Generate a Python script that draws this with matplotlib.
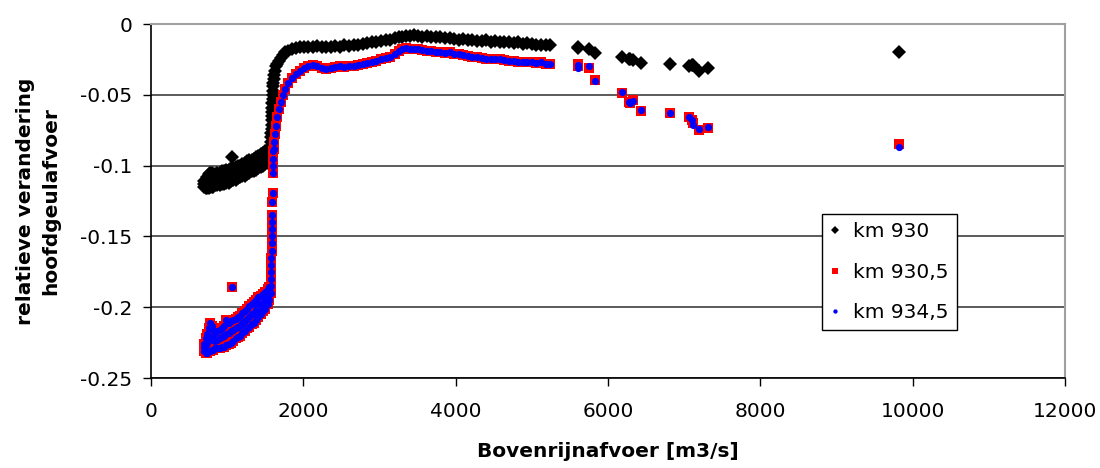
import matplotlib
matplotlib.use("Agg")
import matplotlib.pyplot as plt

plt.rcParams["font.family"] = ["DejaVu Sans"]

# Bovenrijnafvoer [m3/s], shared by the three locations
# low-discharge cloud: three rows of points on the same discharges, then one outlier
Q_low = [700, 720, 740, 760, 780, 800, 820, 840, 870, 900, 930, 960, 990, 1020, 1050, 1080,
         1110, 1140, 1170, 1200, 1230, 1260, 1290, 1320, 1350, 1380, 1410, 1440, 1470, 1500,
         1530, 1555]
Q_rest = [1065,
          # steep rise
          1570, 1572, 1574, 1576, 1578, 1580, 1582, 1584, 1586, 1588, 1590, 1592, 1594, 1596,
          1598, 1600, 1603, 1606,
          1612, 1620, 1630, 1645, 1660, 1680, 1700, 1730, 1760, 1800, 1850, 1900, 1960, 2010,
          2060,
          # plateau
          2120, 2180, 2240, 2300, 2360, 2420, 2480, 2540, 2600, 2660, 2720, 2780, 2840, 2900,
          2960, 3020, 3080, 3140, 3200, 3250, 3300, 3350, 3400, 3450, 3500, 3560, 3620, 3680,
          3740, 3800, 3860, 3920, 3980, 4040, 4100, 4160, 4220, 4280, 4340, 4400, 4460, 4520,
          4580, 4640, 4700, 4760, 4820, 4880, 4940, 5000, 5060, 5120, 5180, 5240,
          # high discharges
          5600, 5610, 5750, 5830, 6190, 6270, 6290, 6330, 6430, 6810, 7060, 7100, 7120, 7190,
          7310, 9820]
Q = Q_low * 3 + Q_rest

km930 = [
    # low cloud, lower / middle / upper row
    -0.115, -0.116, -0.116, -0.116, -0.115, -0.115, -0.115, -0.114, -0.114, -0.114, -0.113,
    -0.113, -0.112, -0.112, -0.111, -0.110, -0.110, -0.109, -0.108, -0.107, -0.107, -0.106,
    -0.105, -0.104, -0.104, -0.103, -0.102, -0.101, -0.100, -0.099, -0.098, -0.096,
    -0.113, -0.113, -0.112, -0.111, -0.110, -0.110, -0.110, -0.110, -0.109, -0.109, -0.108,
    -0.108, -0.107, -0.107, -0.106, -0.106, -0.105, -0.104, -0.104, -0.103, -0.102, -0.101,
    -0.100, -0.100, -0.099, -0.098, -0.097, -0.096, -0.095, -0.094, -0.093, -0.092,
    -0.111, -0.110, -0.108, -0.106, -0.105, -0.105, -0.106, -0.106, -0.105, -0.105, -0.104,
    -0.104, -0.103, -0.103, -0.102, -0.102, -0.101, -0.100, -0.100, -0.099, -0.098, -0.097,
    -0.096, -0.096, -0.095, -0.094, -0.093, -0.092, -0.091, -0.090, -0.089, -0.088,
    -0.094,
    -0.092, -0.089, -0.086, -0.083, -0.080, -0.077, -0.074, -0.071, -0.068, -0.065, -0.062,
    -0.059, -0.056, -0.053, -0.050, -0.047, -0.044, -0.042,
    -0.039, -0.036, -0.033, -0.030, -0.028, -0.026, -0.024, -0.022, -0.020, -0.019, -0.018,
    -0.017, -0.016, -0.016, -0.016,
    -0.016, -0.0155, -0.016, -0.0165, -0.016, -0.0155, -0.016, -0.015, -0.0155, -0.015,
    -0.0145, -0.014, -0.0135, -0.013, -0.0125, -0.012, -0.0115, -0.011, -0.010, -0.0095,
    -0.009, -0.0085, -0.0085, -0.008, -0.0085, -0.009, -0.0085, -0.009, -0.0095, -0.0095,
    -0.010, -0.010, -0.0105, -0.011, -0.0105, -0.011, -0.0115, -0.012, -0.012,
    -0.0115, -0.0125, -0.012, -0.013, -0.0125, -0.013, -0.0135, -0.013, -0.014, -0.0135,
    -0.014, -0.0145, -0.015, -0.0145, -0.015,
    -0.017, -0.016, -0.018, -0.0205, -0.023, -0.025, -0.025, -0.0255, -0.0275, -0.028,
    -0.030, -0.029, -0.029, -0.033, -0.031, -0.020]

km930_5 = [
    -0.231, -0.232, -0.232, -0.231, -0.231, -0.230, -0.230, -0.229, -0.229, -0.229, -0.228,
    -0.228, -0.227, -0.226, -0.225, -0.224, -0.222, -0.221, -0.220, -0.218, -0.217, -0.215,
    -0.214, -0.212, -0.211, -0.209, -0.207, -0.205, -0.203, -0.201, -0.198, -0.195,
    -0.228, -0.227, -0.225, -0.223, -0.221, -0.222, -0.223, -0.224, -0.223, -0.222, -0.221,
    -0.220, -0.219, -0.218, -0.217, -0.216, -0.215, -0.214, -0.213, -0.211, -0.210, -0.208,
    -0.207, -0.205, -0.204, -0.202, -0.200, -0.198, -0.197, -0.195, -0.193, -0.191,
    -0.226, -0.222, -0.219, -0.215, -0.211, -0.213, -0.216, -0.218, -0.217, -0.216, -0.215,
    -0.213, -0.209, -0.211, -0.210, -0.209, -0.208, -0.207, -0.206, -0.204, -0.203, -0.201,
    -0.199, -0.198, -0.196, -0.195, -0.193, -0.192, -0.191, -0.189, -0.187, -0.186,
    -0.186,
    -0.190, -0.185, -0.180, -0.175, -0.170, -0.165, -0.160, -0.155, -0.150, -0.145, -0.140,
    -0.135, -0.126, -0.119, -0.105, -0.100, -0.095, -0.090,
    -0.088, -0.083, -0.078, -0.072, -0.066, -0.060, -0.055, -0.050, -0.046, -0.042, -0.038,
    -0.035, -0.033, -0.031, -0.030,
    -0.029, -0.030, -0.031, -0.0315, -0.031, -0.0305, -0.030, -0.0305, -0.030, -0.0295,
    -0.029, -0.028, -0.0275, -0.027, -0.026, -0.025, -0.024, -0.023, -0.021, -0.019,
    -0.0175, -0.017, -0.0175, -0.018, -0.018, -0.0185, -0.019, -0.019, -0.0195, -0.020,
    -0.0205, -0.020, -0.021, -0.0215, -0.022, -0.0225, -0.023, -0.0235, -0.024,
    -0.0245, -0.025, -0.0245, -0.025, -0.0255, -0.026, -0.026, -0.0265, -0.027, -0.0265,
    -0.027, -0.0275, -0.027, -0.028, -0.028,
    -0.030, -0.028, -0.031, -0.0395, -0.0485, -0.055, -0.0557, -0.054, -0.0615, -0.063,
    -0.0655, -0.068, -0.070, -0.075, -0.0735, -0.085]

km934_5 = [
    -0.231, -0.232, -0.232, -0.231, -0.231, -0.230, -0.230, -0.229, -0.229, -0.229, -0.228,
    -0.228, -0.227, -0.226, -0.225, -0.224, -0.222, -0.221, -0.220, -0.218, -0.217, -0.215,
    -0.214, -0.212, -0.211, -0.209, -0.207, -0.205, -0.203, -0.201, -0.198, -0.195,
    -0.228, -0.227, -0.225, -0.223, -0.221, -0.222, -0.223, -0.224, -0.223, -0.222, -0.221,
    -0.220, -0.219, -0.218, -0.217, -0.216, -0.215, -0.214, -0.213, -0.211, -0.210, -0.208,
    -0.207, -0.205, -0.204, -0.202, -0.200, -0.198, -0.197, -0.195, -0.193, -0.191,
    -0.226, -0.222, -0.219, -0.215, -0.211, -0.213, -0.216, -0.218, -0.217, -0.216, -0.215,
    -0.213, -0.209, -0.211, -0.210, -0.209, -0.208, -0.207, -0.206, -0.204, -0.203, -0.201,
    -0.199, -0.198, -0.196, -0.195, -0.193, -0.192, -0.191, -0.189, -0.187, -0.186,
    -0.186,
    -0.190, -0.185, -0.180, -0.175, -0.170, -0.165, -0.160, -0.155, -0.150, -0.145, -0.140,
    -0.135, -0.126, -0.119, -0.105, -0.100, -0.095, -0.090,
    -0.088, -0.083, -0.078, -0.072, -0.066, -0.060, -0.055, -0.050, -0.046, -0.042, -0.038,
    -0.035, -0.033, -0.031, -0.030,
    -0.029, -0.030, -0.031, -0.0315, -0.031, -0.0305, -0.030, -0.0305, -0.030, -0.0295,
    -0.029, -0.028, -0.0275, -0.027, -0.026, -0.025, -0.024, -0.023, -0.021, -0.019,
    -0.0175, -0.017, -0.0175, -0.018, -0.018, -0.0185, -0.019, -0.019, -0.0195, -0.020,
    -0.0205, -0.020, -0.021, -0.0215, -0.022, -0.0225, -0.023, -0.0235, -0.024,
    -0.0245, -0.025, -0.0245, -0.025, -0.0255, -0.026, -0.026, -0.0265, -0.027, -0.0265,
    -0.027, -0.0275, -0.027, -0.028, -0.028,
    -0.031, -0.029, -0.030, -0.040, -0.048, -0.055, -0.056, -0.0545, -0.061, -0.0625,
    -0.066, -0.068, -0.071, -0.074, -0.073, -0.087]

fig = plt.figure(figsize=(11, 4.68), dpi=100)
ax = fig.add_axes([0.1373, 0.1923, 0.8309, 0.7564])

ax.plot(Q, km930, "D", color="black", ms=7.0, mew=0, label="km 930", zorder=3)
ax.plot(Q, km930_5, "s", color="red", ms=7.8, mew=0, label="km 930,5", zorder=4)
ax.plot(Q, km934_5, "o", color="blue", ms=5.2, mew=0, label="km 934,5", zorder=5)

ax.set_xlim(0, 12000)
ax.set_ylim(-0.25, 0)
ax.set_xticks(range(0, 12001, 2000))
ax.set_yticks([-0.25, -0.2, -0.15, -0.1, -0.05, 0])
ax.set_yticklabels(["-0.25", "-0.2", "-0.15", "-0.1", "-0.05", "0"])
ax.tick_params(labelsize=14.5, direction="out", length=5.5, width=1, color="black", pad=8)
ax.tick_params(axis="x", pad=12)

ax.yaxis.grid(True, color="#404040", lw=1.2)
ax.set_axisbelow(True)
for s in ("left", "bottom"):
    ax.spines[s].set_color("black"); ax.spines[s].set_linewidth(1.2)
for s in ("top", "right"):
    ax.spines[s].set_color("#a0a0a0"); ax.spines[s].set_linewidth(1.5)

ax.set_xlabel("Bovenrijnafvoer [m3/s]", fontsize=14.5, fontweight="bold", labelpad=15)
ax.set_ylabel("relatieve verandering\nhoofdgeulafvoer", fontsize=14.5, fontweight="bold",
              labelpad=14, linespacing=1.45)

leg = ax.legend(loc="upper left", bbox_to_anchor=(0.734, 0.463), fontsize=14.5,
                fancybox=False, edgecolor="black", framealpha=1, markerscale=0.6,
                handlelength=0.5, handletextpad=0.65, labelspacing=1.07, borderpad=0.4,
                borderaxespad=0)
leg.get_frame().set_linewidth(1.0)

fig.savefig("out.png", dpi=100)
